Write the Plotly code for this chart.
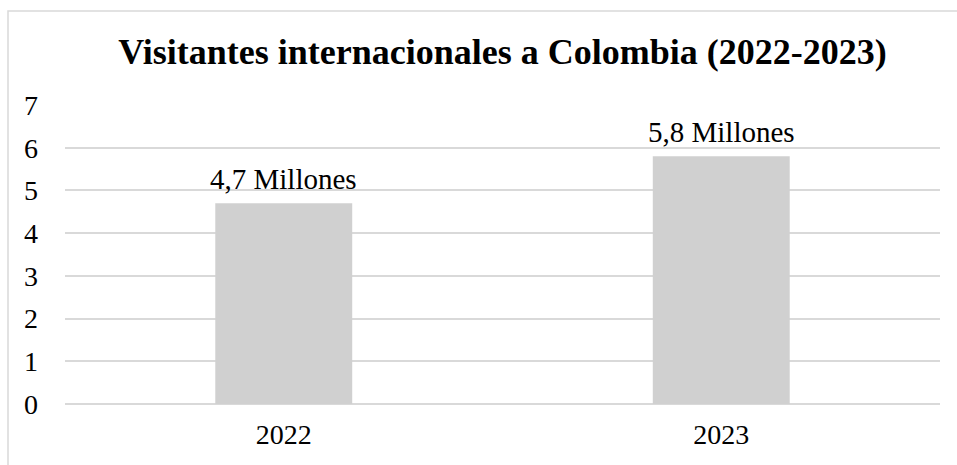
import plotly.graph_objects as go

categories = ["2022", "2023"]
values = [4.7, 5.8]
labels = ["4,7 Millones", "5,8 Millones"]
y_ticks = [0, 1, 2, 3, 4, 5, 6, 7]
title = "Visitantes internacionales a Colombia (2022-2023)"

FONT = "Liberation Serif, Times New Roman, serif"

fig = go.Figure(go.Bar(
    x=categories, y=values,
    marker=dict(color="#d0d0d0", line=dict(width=0)),
    cliponaxis=False,
))

annotations = [
    dict(x=i, y=v, text=t, xref="x", yref="y", showarrow=False, yanchor="bottom", yshift=6,
         font=dict(family=FONT, size=29, color="#000000"))
    for i, (v, t) in enumerate(zip(values, labels))
]

fig.update_layout(
    width=957, height=465,
    margin=dict(l=65, r=17, t=105, b=61, pad=0),
    paper_bgcolor="white", plot_bgcolor="white",
    bargap=0.687,
    showlegend=False,
    annotations=annotations,
    title=dict(text="<b>" + title + "</b>", x=0.5, xref="paper", y=1 - 51 / 465, yanchor="middle",
               font=dict(family=FONT, size=36, color="#000000")),
    font=dict(family=FONT, size=28, color="#000000"),
    xaxis=dict(type="category", showgrid=False, showline=False, zeroline=False, ticks="",
               ticklabelstandoff=11, tickfont=dict(family=FONT, size=28, color="#000000")),
    yaxis=dict(range=[0, 7], tickvals=y_ticks, showgrid=True, gridcolor="#d9d9d9", gridwidth=1.5,
               zeroline=True, zerolinecolor="#d9d9d9", zerolinewidth=1.5, showline=False,
               ticks="", ticklabelstandoff=26,
               tickfont=dict(family=FONT, size=28, color="#000000")),
    shapes=[dict(type="rect", xref="paper", yref="paper",
                 x0=(8 - 65) / 875, x1=1.2, y0=-0.5, y1=(404 - 11) / 299,
                 line=dict(color="#d9d9d9", width=1.5), fillcolor="rgba(0,0,0,0)", layer="below")],
)

fig.write_html("out.html")
